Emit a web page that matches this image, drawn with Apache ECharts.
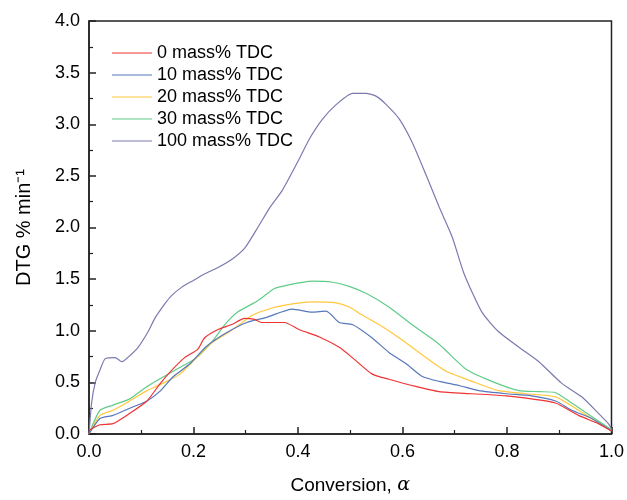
<!DOCTYPE html>
<html>
<head>
<meta charset="utf-8">
<script src="https://cdn.jsdelivr.net/npm/echarts@6/dist/echarts.min.js"></script>
<style>
  html, body { margin: 0; padding: 0; background: #fff; }
  #chart { width: 627px; height: 500px; }
</style>
</head>
<body>
<div id="chart"></div>
<script>
// series names
const seriesNames = ['0 mass% TDC', '10 mass% TDC', '20 mass% TDC', '30 mass% TDC', '100 mass% TDC']
const seriesColors = ['#ee3333', '#5577bb', '#ffc83d', '#5fcc88', '#7a7ab0']

// [conversion, DTG]
const tdc0 = [
  [0, 0], [0.002, 0.04], [0.021, 0.09], [0.046, 0.10], [0.078, 0.20], [0.111, 0.32],
  [0.135, 0.48], [0.155, 0.60], [0.183, 0.74], [0.208, 0.82], [0.221, 0.93], [0.246, 1.01],
  [0.273, 1.06], [0.298, 1.12], [0.317, 1.11], [0.33, 1.08], [0.374, 1.08], [0.403, 1.01],
  [0.441, 0.94], [0.479, 0.84], [0.504, 0.74], [0.542, 0.58], [0.574, 0.53], [0.618, 0.47],
  [0.67, 0.41], [0.733, 0.39], [0.798, 0.37], [0.847, 0.34], [0.893, 0.30], [0.937, 0.18],
  [0.975, 0.10], [1.0, 0.03]
]
const tdc10 = [
  [0, 0], [0.021, 0.15], [0.046, 0.18], [0.078, 0.25], [0.111, 0.32], [0.135, 0.41],
  [0.16, 0.55], [0.193, 0.68], [0.225, 0.85], [0.263, 0.98], [0.302, 1.08], [0.34, 1.13],
  [0.389, 1.21], [0.427, 1.18], [0.454, 1.19], [0.479, 1.08], [0.504, 1.06], [0.542, 0.93],
  [0.574, 0.79], [0.607, 0.68], [0.637, 0.56], [0.67, 0.51], [0.708, 0.47], [0.746, 0.42],
  [0.798, 0.39], [0.847, 0.37], [0.893, 0.32], [0.924, 0.23], [0.962, 0.15], [1.0, 0.03]
]
const tdc20 = [
  [0, 0], [0.021, 0.18], [0.046, 0.23], [0.078, 0.32], [0.111, 0.42], [0.141, 0.49],
  [0.174, 0.58], [0.206, 0.74], [0.237, 0.89], [0.269, 0.99], [0.313, 1.15], [0.351, 1.22],
  [0.389, 1.26], [0.427, 1.28], [0.473, 1.27], [0.498, 1.23], [0.517, 1.17], [0.555, 1.06],
  [0.594, 0.93], [0.637, 0.77], [0.683, 0.61], [0.733, 0.51], [0.784, 0.42], [0.836, 0.39],
  [0.893, 0.36], [0.937, 0.23], [0.981, 0.09], [1.0, 0.03]
]
const tdc30 = [
  [0, 0], [0.021, 0.23], [0.046, 0.28], [0.078, 0.34], [0.111, 0.46], [0.141, 0.55],
  [0.183, 0.67], [0.206, 0.74], [0.235, 0.89], [0.26, 1.06], [0.284, 1.18], [0.323, 1.29],
  [0.355, 1.41], [0.378, 1.44], [0.427, 1.48], [0.466, 1.47], [0.498, 1.43], [0.531, 1.36],
  [0.574, 1.23], [0.618, 1.06], [0.67, 0.87], [0.721, 0.63], [0.771, 0.51], [0.823, 0.42],
  [0.861, 0.41], [0.893, 0.40], [0.924, 0.30], [0.962, 0.17], [1.0, 0.04]
]
const tdc100 = [
  [0, 0], [0.005, 0.3], [0.012, 0.5], [0.021, 0.62], [0.031, 0.73], [0.05, 0.74],
  [0.063, 0.70], [0.074, 0.74], [0.094, 0.84], [0.113, 0.99], [0.126, 1.12], [0.145, 1.26],
  [0.158, 1.34], [0.177, 1.42], [0.197, 1.48], [0.221, 1.55], [0.246, 1.61], [0.273, 1.69],
  [0.298, 1.80], [0.323, 2.0], [0.347, 2.2], [0.37, 2.36], [0.403, 2.67], [0.422, 2.86],
  [0.447, 3.05], [0.473, 3.19], [0.504, 3.30], [0.53, 3.30], [0.55, 3.27], [0.569, 3.19],
  [0.594, 3.05], [0.618, 2.83], [0.645, 2.51], [0.67, 2.20], [0.695, 1.91], [0.718, 1.55],
  [0.752, 1.18], [0.784, 0.99], [0.823, 0.84], [0.861, 0.70], [0.905, 0.49], [0.943, 0.36],
  [0.975, 0.20], [0.994, 0.10], [1.0, 0.05]
]
const seriesData = [tdc0, tdc10, tdc20, tdc30, tdc100]

const fontFamily = '"Liberation Sans", Arial, sans-serif'

const chart = echarts.init(document.getElementById('chart'))
chart.setOption({
  animation: false,
  backgroundColor: '#fff',
  textStyle: { fontFamily: fontFamily, color: '#000' },
  grid: {
    left: 89, right: 14, top: 21, bottom: 58,
    show: true,
    borderColor: '#222',
    borderWidth: 1.5
  },
  legend: {
    orient: 'vertical',
    left: 107,
    top: 38,
    icon: 'rect',
    itemWidth: 40,
    itemHeight: 1.2,
    itemGap: 2,
    textStyle: { fontSize: 18, lineHeight: 20, color: '#000', fontFamily: fontFamily },
    data: seriesNames
  },
  xAxis: {
    type: 'value',
    min: 0,
    max: 1,
    interval: 0.2,
    name: '{n|Conversion, }{a|α}',
    nameLocation: 'middle',
    nameGap: 42,
    nameTextStyle: {
      rich: {
        n: { fontSize: 19, color: '#000', fontFamily: fontFamily },
        a: { fontSize: 19, color: '#000', fontStyle: 'italic', fontFamily: '"DejaVu Serif", serif' }
      }
    },
    axisLine: { lineStyle: { color: '#222', width: 1.5 } },
    axisTick: { inside: true, length: 7, lineStyle: { color: '#222', width: 1.5 } },
    minorTick: { show: true, splitNumber: 2, length: 4, lineStyle: { color: '#222', width: 1.2 } },
    splitLine: { show: false },
    axisLabel: { fontSize: 18, color: '#000', margin: 9, formatter: v => v.toFixed(1) }
  },
  yAxis: {
    type: 'value',
    min: 0,
    max: 4,
    interval: 0.5,
    name: 'DTG % min⁻¹',
    nameLocation: 'middle',
    nameGap: 55,
    nameTextStyle: { fontSize: 20, color: '#000' },
    axisLine: { show: true, lineStyle: { color: '#222', width: 1.5 } },
    axisTick: { show: true, inside: true, length: 7, lineStyle: { color: '#222', width: 1.5 } },
    minorTick: { show: true, splitNumber: 2, length: 4, lineStyle: { color: '#222', width: 1.2 } },
    splitLine: { show: false },
    axisLabel: { fontSize: 18, color: '#000', margin: 9, formatter: v => v.toFixed(1) }
  },
  series: seriesNames.map((name, i) => ({
    name: name,
    type: 'line',
    data: seriesData[i],
    symbol: 'none',
    smooth: 0.2,
    color: seriesColors[i],
    lineStyle: { width: 1.2, color: seriesColors[i] },
    z: i === 4 ? 1 : 5 - i
  }))
})
</script>
</body>
</html>
